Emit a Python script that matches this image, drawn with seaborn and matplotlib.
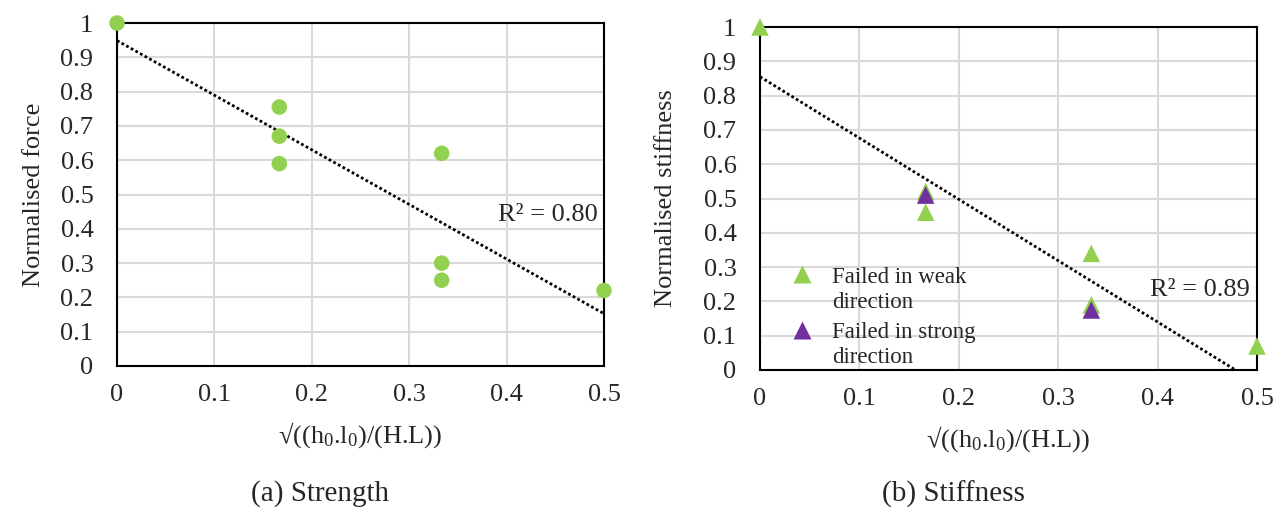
import numpy as np
import pandas as pd
import matplotlib
matplotlib.use("Agg")
import matplotlib.pyplot as plt
import seaborn as sns
from matplotlib.lines import Line2D

# ---- data ----
strength_x = [0.0, 1/6, 1/6, 1/6, 1/3, 1/3, 1/3, 0.5]
strength_y = [1.0, 0.755, 0.67, 0.59, 0.62, 0.30, 0.25, 0.22]

weak_x = [0.0, 1/6, 1/6, 1/3, 1/3, 0.5]
weak_y = [1.0, 0.52, 0.46, 0.34, 0.19, 0.07]
strong_x = [1/6, 1/3]
strong_y = [0.51, 0.175]

x_ticks = [0, 0.1, 0.2, 0.3, 0.4, 0.5]
y_ticks = [0, 0.1, 0.2, 0.3, 0.4, 0.5, 0.6, 0.7, 0.8, 0.9, 1.0]
x_label = "√((h$_0$.l$_0$)/(H.L))"
green = "#92d050"
purple = "#7030a0"

sns.set_style("white")
plt.rcParams['font.family'] = ['Liberation Serif', 'DejaVu Serif']
plt.rcParams['mathtext.fontset'] = 'custom'
plt.rcParams['mathtext.rm'] = 'Liberation Serif'
plt.rcParams['mathtext.it'] = 'Liberation Serif'

FS = 19

fig = plt.figure(figsize=(12.82, 5.08), dpi=100)
ax1 = fig.add_axes([117/1282, 1-366/508, (604-117)/1282, (366-23)/508])
ax2 = fig.add_axes([760/1282, 1-370/508, (1257-760)/1282, (370-27)/508])


def r2(x, y):
    x = np.asarray(x); y = np.asarray(y)
    p = np.polyfit(x, y, 1)
    pred = np.polyval(p, x)
    return 1 - np.sum((y - pred) ** 2) / np.sum((y - y.mean()) ** 2)


def style(ax, ylabel, ypad):
    ax.set_xlim(0, 0.5)
    ax.set_ylim(0, 1)
    ax.set_xticks(x_ticks)
    ax.set_yticks(y_ticks)
    ax.set_xticklabels([f"{t:g}" for t in x_ticks])
    ax.set_yticklabels([f"{t:g}" for t in y_ticks])
    ax.grid(True, color="#d9d9d9", linewidth=1.5)
    ax.set_axisbelow(True)
    for s in ax.spines.values():
        s.set_visible(True)
        s.set_color("black")
        s.set_linewidth(1.5)
    ax.tick_params(axis="both", labelsize=FS, length=0)
    ax.tick_params(axis="x", pad=13)
    ax.tick_params(axis="y", pad=17)
    ax.set_xlabel(x_label, fontsize=FS, labelpad=10)
    ax.set_ylabel(ylabel, fontsize=FS, labelpad=ypad)


line_style = dict(color="black", linewidth=2, dashes=(1, 0.9))

# ---- (a) Strength ----
df1 = pd.DataFrame({"x": strength_x, "y": strength_y})
sns.regplot(data=df1, x="x", y="y", ax=ax1, scatter=False, ci=None, truncate=True,
            line_kws=line_style)
sns.scatterplot(data=df1, x="x", y="y", ax=ax1, color=green, s=125,
                edgecolor="none", clip_on=False, zorder=5)
style(ax1, "Normalised force", 11)
ax1.text(0.391, 0.44, f"R² = {r2(strength_x, strength_y):.2f}", fontsize=FS,
         va="center", ha="left")

# ---- (b) Stiffness ----
all_x = weak_x + strong_x
all_y = weak_y + strong_y
df_all = pd.DataFrame({"x": all_x, "y": all_y})
sns.regplot(data=df_all, x="x", y="y", ax=ax2, scatter=False, ci=None, truncate=True,
            line_kws=line_style)
lab_w = "Failed in weak\ndirection"
lab_s = "Failed in strong\ndirection"
df2 = pd.DataFrame({
    "x": weak_x + strong_x,
    "y": weak_y + strong_y,
    "mode": [lab_w] * len(weak_x) + [lab_s] * len(strong_x),
})
sns.scatterplot(data=df2, x="x", y="y", hue="mode", ax=ax2,
                palette={lab_w: green, lab_s: purple},
                marker="^", s=160, edgecolor="none", clip_on=False, zorder=5,
                legend=False)
style(ax2, "Normalised stiffness", 19)
ax2.text(0.392, 0.233, f"R² = {r2(all_x, all_y):.2f}", fontsize=FS,
         va="center", ha="left")
handles = [Line2D([], [], marker="^", linestyle="none", color=green, markersize=12.5, markeredgecolor="none"),
           Line2D([], [], marker="^", linestyle="none", color=purple, markersize=12.5, markeredgecolor="none")]
leg = ax2.legend(handles, [lab_w, lab_s], loc="lower left", bbox_to_anchor=(0.016, -0.055),
                 frameon=False, fontsize=16.5, handletextpad=0.7, borderaxespad=0.5,
                 labelspacing=0.42, handlelength=1.2)
for t in leg.get_texts():
    t.set_linespacing(1.25)
for h in leg.legend_handles:
    h.set_ydata(np.asarray(h.get_ydata()) + 11)

fig.text(320/1282, 1-494/508, "(a) Strength", fontsize=21, ha="center", va="center")
fig.text(953/1282, 1-494/508, "(b) Stiffness", fontsize=21, ha="center", va="center")

fig.savefig("out.png", dpi=100)
